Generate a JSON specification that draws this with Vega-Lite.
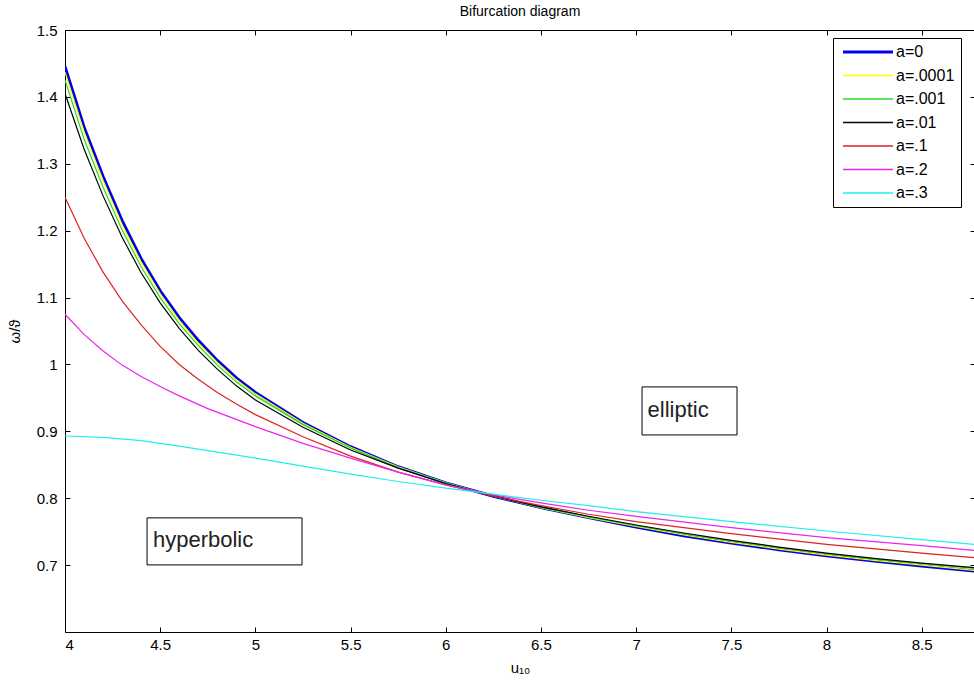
{
  "$schema": "https://vega.github.io/schema/vega-lite/v6.json",
  "width": 910,
  "height": 602,
  "autosize": {"type": "none"},
  "padding": {"left": 65, "top": 30, "right": 0, "bottom": 52},
  "background": "white",
  "title": {"text": "Bifurcation diagram", "font": "Liberation Sans", "fontSize": 14, "fontWeight": "normal", "color": "black", "offset": 4},
  "config": {
    "view": {"stroke": "black", "strokeWidth": 1},
    "axis": {"grid": false, "domain": false, "ticks": true, "tickSize": -5, "tickColor": "black", "tickWidth": 1,
             "labelFont": "Liberation Sans", "labelFontSize": 15, "labelColor": "black",
             "titleFont": "Liberation Sans", "titleFontSize": 15, "titleFontWeight": "normal", "titleColor": "black"}
  },
  "datasets": {
    "curves": [
      {"a": "a=0", "x": 4, "y": 1.445}, {"a": "a=0", "x": 4.1, "y": 1.355}, {"a": "a=0", "x": 4.2, "y": 1.281}, {"a": "a=0", "x": 4.3, "y": 1.215}, {"a": "a=0", "x": 4.4, "y": 1.158}, {"a": "a=0", "x": 4.5, "y": 1.11}, {"a": "a=0", "x": 4.6, "y": 1.07}, {"a": "a=0", "x": 4.7, "y": 1.036}, {"a": "a=0", "x": 4.8, "y": 1.006}, {"a": "a=0", "x": 4.9, "y": 0.98}, {"a": "a=0", "x": 5, "y": 0.958}, {"a": "a=0", "x": 5.25, "y": 0.913}, {"a": "a=0", "x": 5.5, "y": 0.877}, {"a": "a=0", "x": 5.75, "y": 0.847}, {"a": "a=0", "x": 6, "y": 0.823}, {"a": "a=0", "x": 6.25, "y": 0.803}, {"a": "a=0", "x": 6.5, "y": 0.786}, {"a": "a=0", "x": 6.75, "y": 0.771}, {"a": "a=0", "x": 7, "y": 0.757}, {"a": "a=0", "x": 7.25, "y": 0.744}, {"a": "a=0", "x": 7.5, "y": 0.733}, {"a": "a=0", "x": 7.75, "y": 0.723}, {"a": "a=0", "x": 8, "y": 0.714}, {"a": "a=0", "x": 8.25, "y": 0.706}, {"a": "a=0", "x": 8.5, "y": 0.6985}, {"a": "a=0", "x": 8.78, "y": 0.691},
      {"a": "a=.0001", "x": 4, "y": 1.437}, {"a": "a=.0001", "x": 4.1, "y": 1.348}, {"a": "a=.0001", "x": 4.2, "y": 1.275}, {"a": "a=.0001", "x": 4.3, "y": 1.209}, {"a": "a=.0001", "x": 4.4, "y": 1.153}, {"a": "a=.0001", "x": 4.5, "y": 1.106}, {"a": "a=.0001", "x": 4.6, "y": 1.066}, {"a": "a=.0001", "x": 4.7, "y": 1.032}, {"a": "a=.0001", "x": 4.8, "y": 1.003}, {"a": "a=.0001", "x": 4.9, "y": 0.977}, {"a": "a=.0001", "x": 5, "y": 0.956}, {"a": "a=.0001", "x": 5.25, "y": 0.912}, {"a": "a=.0001", "x": 5.5, "y": 0.876}, {"a": "a=.0001", "x": 5.75, "y": 0.847}, {"a": "a=.0001", "x": 6, "y": 0.823}, {"a": "a=.0001", "x": 6.25, "y": 0.803}, {"a": "a=.0001", "x": 6.5, "y": 0.786}, {"a": "a=.0001", "x": 6.75, "y": 0.771}, {"a": "a=.0001", "x": 7, "y": 0.758}, {"a": "a=.0001", "x": 7.25, "y": 0.745}, {"a": "a=.0001", "x": 7.5, "y": 0.734}, {"a": "a=.0001", "x": 7.75, "y": 0.724}, {"a": "a=.0001", "x": 8, "y": 0.715}, {"a": "a=.0001", "x": 8.25, "y": 0.707}, {"a": "a=.0001", "x": 8.5, "y": 0.7}, {"a": "a=.0001", "x": 8.78, "y": 0.692},
      {"a": "a=.001", "x": 4, "y": 1.425}, {"a": "a=.001", "x": 4.1, "y": 1.337}, {"a": "a=.001", "x": 4.2, "y": 1.265}, {"a": "a=.001", "x": 4.3, "y": 1.201}, {"a": "a=.001", "x": 4.4, "y": 1.146}, {"a": "a=.001", "x": 4.5, "y": 1.1}, {"a": "a=.001", "x": 4.6, "y": 1.061}, {"a": "a=.001", "x": 4.7, "y": 1.028}, {"a": "a=.001", "x": 4.8, "y": 0.999}, {"a": "a=.001", "x": 4.9, "y": 0.974}, {"a": "a=.001", "x": 5, "y": 0.953}, {"a": "a=.001", "x": 5.25, "y": 0.91}, {"a": "a=.001", "x": 5.5, "y": 0.875}, {"a": "a=.001", "x": 5.75, "y": 0.846}, {"a": "a=.001", "x": 6, "y": 0.823}, {"a": "a=.001", "x": 6.25, "y": 0.803}, {"a": "a=.001", "x": 6.5, "y": 0.786}, {"a": "a=.001", "x": 6.75, "y": 0.772}, {"a": "a=.001", "x": 7, "y": 0.759}, {"a": "a=.001", "x": 7.25, "y": 0.747}, {"a": "a=.001", "x": 7.5, "y": 0.736}, {"a": "a=.001", "x": 7.75, "y": 0.726}, {"a": "a=.001", "x": 8, "y": 0.717}, {"a": "a=.001", "x": 8.25, "y": 0.709}, {"a": "a=.001", "x": 8.5, "y": 0.702}, {"a": "a=.001", "x": 8.78, "y": 0.695},
      {"a": "a=.01", "x": 4, "y": 1.405}, {"a": "a=.01", "x": 4.1, "y": 1.322}, {"a": "a=.01", "x": 4.2, "y": 1.252}, {"a": "a=.01", "x": 4.3, "y": 1.19}, {"a": "a=.01", "x": 4.4, "y": 1.137}, {"a": "a=.01", "x": 4.5, "y": 1.092}, {"a": "a=.01", "x": 4.6, "y": 1.054}, {"a": "a=.01", "x": 4.7, "y": 1.021}, {"a": "a=.01", "x": 4.8, "y": 0.993}, {"a": "a=.01", "x": 4.9, "y": 0.968}, {"a": "a=.01", "x": 5, "y": 0.947}, {"a": "a=.01", "x": 5.25, "y": 0.906}, {"a": "a=.01", "x": 5.5, "y": 0.872}, {"a": "a=.01", "x": 5.75, "y": 0.845}, {"a": "a=.01", "x": 6, "y": 0.822}, {"a": "a=.01", "x": 6.25, "y": 0.803}, {"a": "a=.01", "x": 6.5, "y": 0.787}, {"a": "a=.01", "x": 6.75, "y": 0.773}, {"a": "a=.01", "x": 7, "y": 0.76}, {"a": "a=.01", "x": 7.25, "y": 0.748}, {"a": "a=.01", "x": 7.5, "y": 0.737}, {"a": "a=.01", "x": 7.75, "y": 0.727}, {"a": "a=.01", "x": 8, "y": 0.718}, {"a": "a=.01", "x": 8.25, "y": 0.71}, {"a": "a=.01", "x": 8.5, "y": 0.703}, {"a": "a=.01", "x": 8.78, "y": 0.696},
      {"a": "a=.1", "x": 4, "y": 1.25}, {"a": "a=.1", "x": 4.1, "y": 1.189}, {"a": "a=.1", "x": 4.2, "y": 1.138}, {"a": "a=.1", "x": 4.3, "y": 1.095}, {"a": "a=.1", "x": 4.4, "y": 1.059}, {"a": "a=.1", "x": 4.5, "y": 1.027}, {"a": "a=.1", "x": 4.6, "y": 1.0}, {"a": "a=.1", "x": 4.7, "y": 0.978}, {"a": "a=.1", "x": 4.8, "y": 0.958}, {"a": "a=.1", "x": 4.9, "y": 0.941}, {"a": "a=.1", "x": 5, "y": 0.925}, {"a": "a=.1", "x": 5.25, "y": 0.892}, {"a": "a=.1", "x": 5.5, "y": 0.863}, {"a": "a=.1", "x": 5.75, "y": 0.839}, {"a": "a=.1", "x": 6, "y": 0.82}, {"a": "a=.1", "x": 6.25, "y": 0.803}, {"a": "a=.1", "x": 6.5, "y": 0.789}, {"a": "a=.1", "x": 6.75, "y": 0.776}, {"a": "a=.1", "x": 7, "y": 0.765}, {"a": "a=.1", "x": 7.5, "y": 0.747}, {"a": "a=.1", "x": 8, "y": 0.731}, {"a": "a=.1", "x": 8.5, "y": 0.718}, {"a": "a=.1", "x": 8.78, "y": 0.711},
      {"a": "a=.2", "x": 4, "y": 1.075}, {"a": "a=.2", "x": 4.1, "y": 1.045}, {"a": "a=.2", "x": 4.2, "y": 1.02}, {"a": "a=.2", "x": 4.3, "y": 0.999}, {"a": "a=.2", "x": 4.4, "y": 0.982}, {"a": "a=.2", "x": 4.5, "y": 0.967}, {"a": "a=.2", "x": 4.6, "y": 0.953}, {"a": "a=.2", "x": 4.75, "y": 0.934}, {"a": "a=.2", "x": 5, "y": 0.907}, {"a": "a=.2", "x": 5.25, "y": 0.882}, {"a": "a=.2", "x": 5.5, "y": 0.86}, {"a": "a=.2", "x": 5.75, "y": 0.839}, {"a": "a=.2", "x": 6, "y": 0.82}, {"a": "a=.2", "x": 6.25, "y": 0.805}, {"a": "a=.2", "x": 6.5, "y": 0.793}, {"a": "a=.2", "x": 6.75, "y": 0.782}, {"a": "a=.2", "x": 7, "y": 0.773}, {"a": "a=.2", "x": 7.5, "y": 0.756}, {"a": "a=.2", "x": 8, "y": 0.741}, {"a": "a=.2", "x": 8.5, "y": 0.729}, {"a": "a=.2", "x": 8.78, "y": 0.722},
      {"a": "a=.3", "x": 4, "y": 0.893}, {"a": "a=.3", "x": 4.2, "y": 0.891}, {"a": "a=.3", "x": 4.4, "y": 0.886}, {"a": "a=.3", "x": 4.6, "y": 0.878}, {"a": "a=.3", "x": 4.8, "y": 0.869}, {"a": "a=.3", "x": 5, "y": 0.86}, {"a": "a=.3", "x": 5.25, "y": 0.848}, {"a": "a=.3", "x": 5.5, "y": 0.836}, {"a": "a=.3", "x": 5.75, "y": 0.825}, {"a": "a=.3", "x": 6, "y": 0.815}, {"a": "a=.3", "x": 6.25, "y": 0.806}, {"a": "a=.3", "x": 6.5, "y": 0.797}, {"a": "a=.3", "x": 6.75, "y": 0.789}, {"a": "a=.3", "x": 7, "y": 0.78}, {"a": "a=.3", "x": 7.5, "y": 0.765}, {"a": "a=.3", "x": 8, "y": 0.751}, {"a": "a=.3", "x": 8.5, "y": 0.738}, {"a": "a=.3", "x": 8.78, "y": 0.731}
    ],
    "boxes": [
      {"name": "hyperbolic", "x1": 4.431, "x2": 5.245, "y1": 0.7706, "y2": 0.7003, "tx": 4.462, "ty": 0.7272},
      {"name": "elliptic", "x1": 7.031, "x2": 7.53, "y1": 0.9664, "y2": 0.8946, "tx": 7.06, "ty": 0.9215}
    ]
  },
  "layer": [
    {
      "data": {"name": "curves"},
      "mark": {"type": "line", "clip": true},
      "encoding": {
        "x": {"field": "x", "type": "quantitative", "scale": {"domain": [4, 8.78], "nice": false, "zero": false},
              "axis": {"orient": "bottom", "values": [4, 4.5, 5, 5.5, 6, 6.5, 7, 7.5, 8, 8.5], "format": "~g", "labelPadding": 10, "title": "u₁₀", "titlePadding": 8}},
        "y": {"field": "y", "type": "quantitative", "scale": {"domain": [0.6, 1.5], "nice": false, "zero": false},
              "axis": {"orient": "left", "values": [0.7, 0.8, 0.9, 1, 1.1, 1.2, 1.3, 1.4, 1.5], "format": "~g", "labelPadding": 13, "title": "ω/ϑ", "titlePadding": 14}},
        "color": {"field": "a", "type": "nominal",
                  "scale": {"domain": ["a=0", "a=.0001", "a=.001", "a=.01", "a=.1", "a=.2", "a=.3"],
                            "range": ["#0000ee", "#ffff00", "#22dd22", "#000000", "#dd2222", "#ee22ee", "#22eeee"]},
                  "legend": {"title": null, "orient": "none", "legendX": 768, "legendY": 8, "symbolType": "M-5,0H5", "symbolSize": 100, "symbolOffset": 21, "labelOffset": 20,
                             "labelFont": "Liberation Sans", "labelFontSize": 16, "labelColor": "black", "labelExpr": "datum.label + '  '",
                             "rowPadding": 7.5, "padding": 6, "strokeColor": "black", "fillColor": "white", "cornerRadius": 0,
                             "encode": {"symbols": {"update": {"strokeWidth": {"signal": "datum.value === 'a=0' ? 3 : 1.3"}}}}}},
        "strokeWidth": {"condition": {"test": "datum.a === 'a=0'", "value": 3}, "value": 1.2}
      }
    },
    {
      "data": {"name": "boxes"},
      "mark": {"type": "rect", "fill": "white", "stroke": "black", "strokeWidth": 1},
      "encoding": {
        "x": {"field": "x1", "type": "quantitative", "scale": {"domain": [4, 8.78], "nice": false, "zero": false},
              "axis": {"orient": "top", "values": [4, 4.5, 5, 5.5, 6, 6.5, 7, 7.5, 8, 8.5], "labels": false, "title": null}},
        "x2": {"field": "x2"},
        "y": {"field": "y1", "type": "quantitative", "scale": {"domain": [0.6, 1.5], "nice": false, "zero": false},
              "axis": {"orient": "right", "values": [0.7, 0.8, 0.9, 1, 1.1, 1.2, 1.3, 1.4, 1.5], "labels": false, "title": null}},
        "y2": {"field": "y2"}
      }
    },
    {
      "data": {"name": "boxes"},
      "mark": {"type": "text", "align": "left", "baseline": "alphabetic", "font": "Liberation Sans", "fontSize": 22, "color": "#222222"},
      "encoding": {
        "x": {"field": "tx", "type": "quantitative", "scale": {"domain": [4, 8.78], "nice": false, "zero": false}, "axis": null},
        "y": {"field": "ty", "type": "quantitative", "scale": {"domain": [0.6, 1.5], "nice": false, "zero": false}, "axis": null},
        "text": {"field": "name"}
      }
    }
  ],
  "resolve": {"axis": {"x": "independent", "y": "independent"}}
}
